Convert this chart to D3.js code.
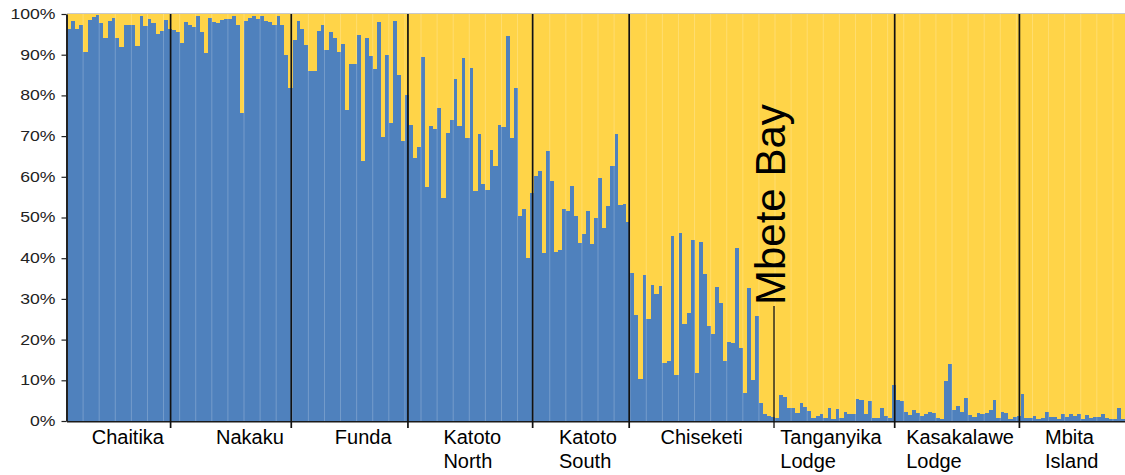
<!DOCTYPE html>
<html><head><meta charset="utf-8">
<script src="https://cdn.jsdelivr.net/npm/d3@7"></script>
<style>body{margin:0;background:#fff;} svg{display:block;font-family:"Liberation Sans",Arial,sans-serif;}</style>
</head><body><svg id="c" width="1125" height="475"></svg>
<script>
// Population labels (multi-line)
const populations = [["Chaitika"],["Nakaku"],["Funda"],["Katoto","North"],["Katoto","South"],["Chiseketi"],["Tanganyika","Lodge"],["Kasakalawe","Lodge"],["Mbita","Island"]];
// Blue cluster membership (%) per individual, per population
const chaitika = [96.2,98.2,96.2,97.3,90.6,98.6,99.3,99.7,97.7,94,98.2,98.9,94,91.9,97.4,97.3,97.2,92.2,99.5,97,98.8,97.7,95.1,95.8,98.6,96.2];
const nakaku = [96,95.5,92.8,98.1,97.2,96.8,99.4,95.6,90.4,99.1,98,97.9,98.6,98.8,98.8,99.4,97.4,75.6,98.4,99,99.6,98.8,99.4,98.4,98,97.3,99.4,97.3,90,81.7];
const funda = [93.7,98.2,96.2,92.3,85.9,86,95.9,97.3,91.2,95.7,94.2,90.6,92.6,76.3,87.7,87.8,94.8,64,94.2,89.8,86.6,98,69.9,89.9,73.2,98.2,85.1,68.8,80.2];
const katotoNorth = [72.8,64.5,67.4,89.5,57.4,72.6,71.7,77,54.7,70.8,73.9,84,72.6,89.1,69.5,86.8,56.5,70.6,58.3,56.8,66.7,62.7,72.8,72.2,94.5,69.5,81.9,50.4,52,40,56];
const katotoSouth = [60.1,61.5,41.3,66.4,58.9,41.6,42.1,52.2,51.7,57.8,50.4,43.8,46,51.7,43.4,49.9,59.6,47.5,52.9,62.7,70.6,53,53.4,48.9];
const chiseketi = [36.3,26.1,10.2,35.9,25,33.4,31.2,33.2,14.2,14.8,45.5,11.4,46.3,23.8,26.5,44.4,11.9,44,36.2,23.4,21.4,33,29.1,14.8,19.4,19.1,42.6,18,6.8,32.7,10.1,25.8,4.4,1.7,1.2,1];
const tanganyika = [0.7,6.4,5.9,3.1,3.2,1.9,4.4,3.4,2.4,0.7,1.3,1.7,0.8,3.1,0.5,3,0.7,2.2,1.6,1.6,5.4,5.1,1.6,4.8,0.7,0.8,3.2,1.3,0.8,8.9];
const kasakalawe = [5.2,4.8,2.3,1.5,2.7,1.9,1.3,1.8,2.1,1.9,0.7,0.5,9.8,14.1,2.8,3.8,2.1,5.7,1.5,0.9,2,1.7,1.9,2.7,5.2,0.7,2.3,2,0.6,1,1.3];
const mbita = [6.6,0.8,0.8,1.2,0.6,0.8,2.2,1.1,0.9,0.4,1.7,1.1,1.6,1.2,1.8,0.6,1.4,0.7,1,1.1,1.7,0.8,0.6,0.6,3.2,0.6];
const blueByPop = [chaitika,nakaku,funda,katotoNorth,katotoSouth,chiseketi,tanganyika,kasakalawe,mbita];
const yTicks = [0,10,20,30,40,50,60,70,80,90,100];
const annotation = {label:"Mbete Bay", afterPop:5};

// layout (not data): small horizontal nudges of the population labels
const LAYOUT = {l:67, r:1125, t:14, b:421, labelDx:[9,18,13,1,6,-1,-4,2,-1]};
const BLUE="#4F81BD", YELLOW="#FFD448";

const rows=[]; const popStart=[];
blueByPop.forEach((arr,p)=>{ popStart.push(rows.length); arr.forEach((v,i)=>rows.push({id:p+"_"+i,pop:p,blue:v,yellow:100-v})); });
popStart.push(rows.length);

const svg=d3.select("#c");
const x=d3.scaleBand().domain(rows.map(d=>d.id)).range([LAYOUT.l,LAYOUT.r]).padding(0);
const y=d3.scaleLinear().domain([0,100]).range([LAYOUT.b,LAYOUT.t]);
const bw=x.bandwidth();
const bx=i=> LAYOUT.l+i*bw;

const series=d3.stack().keys(["blue","yellow"])(rows);
const colors={blue:BLUE,yellow:YELLOW};
svg.append("g").selectAll("g").data(series).join("g").attr("fill",s=>colors[s.key])
 .selectAll("rect").data(s=>s).join("rect")
 .attr("x",d=>x(d.data.id)).attr("width",bw+0.4)
 .attr("y",d=>y(d[1])).attr("height",d=>y(d[0])-y(d[1]))
 .attr("shape-rendering","crispEdges");

// faint seams
svg.append("g").selectAll("line").data(d3.range(4,rows.length,4)).join("line")
 .attr("x1",i=>bx(i)).attr("x2",i=>bx(i)).attr("y1",LAYOUT.t).attr("y2",LAYOUT.b)
 .attr("stroke","#fff").attr("stroke-opacity",0.22).attr("stroke-width",1);

// top border
svg.append("line").attr("x1",LAYOUT.l).attr("x2",LAYOUT.r).attr("y1",LAYOUT.t-0.5).attr("y2",LAYOUT.t-0.5).attr("stroke","#c8c8c8").attr("stroke-width",1);

// bottom axis line
svg.append("line").attr("x1",LAYOUT.l).attr("x2",LAYOUT.r).attr("y1",LAYOUT.b+0.8).attr("y2",LAYOUT.b+0.8).attr("stroke","#1a1a1a").attr("stroke-width",1.6);

// dividers
const divs=popStart.slice(1,-1).map((s,k)=>({i:s,k:k}));
svg.append("g").selectAll("line").data(divs).join("line")
 .attr("x1",d=>bx(d.i)-1).attr("x2",d=>bx(d.i)-1)
 .attr("y1",d=>d.k===annotation.afterPop?306:LAYOUT.t).attr("y2",428)
 .attr("stroke","#111").attr("stroke-width",d=>d.k===annotation.afterPop?1.3:1.7);

// y axis
const ya=svg.append("g").attr("transform",`translate(${LAYOUT.l-0.5},0)`)
 .call(d3.axisLeft(y).tickValues(yTicks).tickSize(5).tickSizeOuter(0).tickFormat(d=>d+"%"));
ya.select(".domain").attr("stroke","#222").attr("stroke-width",2);
ya.selectAll(".tick line").attr("stroke","#222").attr("stroke-width",1.2);
ya.selectAll(".tick text").attr("x",0).attr("transform","translate(-11,0) scale(1.26,1)")
 .attr("font-size",14).attr("fill","#222").attr("font-family","Liberation Sans, Arial, sans-serif");

// group labels
const lg=svg.append("g").attr("font-size",20).attr("fill","#000");
populations.forEach((lines,p)=>{
  const cx=(bx(popStart[p])+bx(popStart[p+1]))/2 + LAYOUT.labelDx[p];
  const t=lg.append("text").attr("y",444);
  lines.forEach((ln,j)=>t.append("tspan").attr("x",0).attr("dy",j?24:0).text(ln));
  const w=t.node().getBBox().width;
  t.attr("transform",`translate(${cx-w/2},0)`);
});

// Mbete Bay annotation
const ax=bx(popStart[annotation.afterPop+1]);
svg.append("text").attr("transform",`translate(${ax+10},305) rotate(-90)`)
 .attr("font-size",42).attr("fill","#000").text(annotation.label);
</script></body></html>
